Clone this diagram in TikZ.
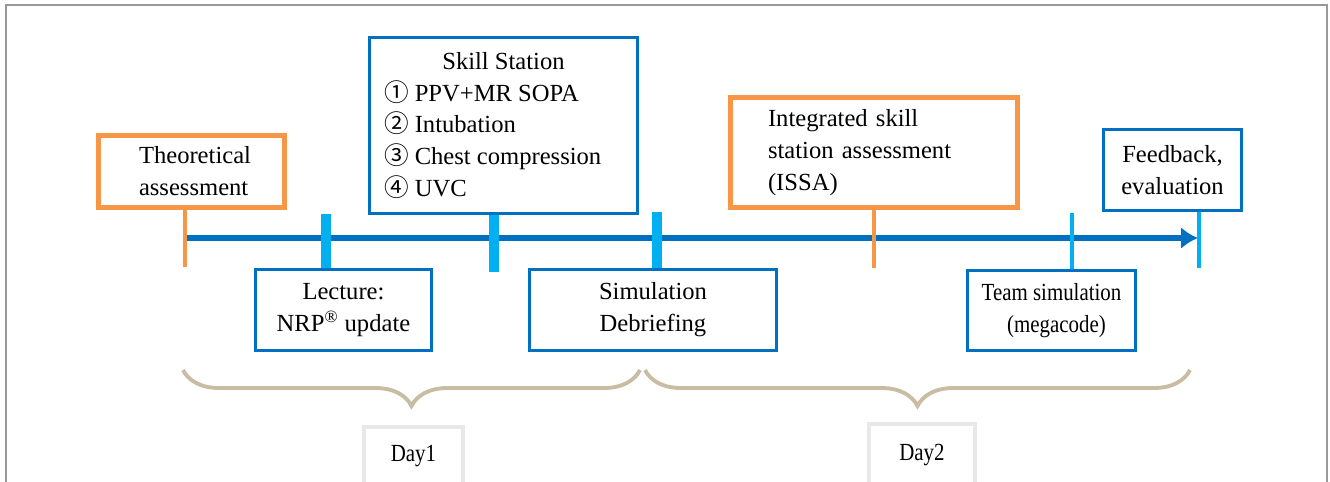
\documentclass[tikz,border=0pt]{standalone}
\usepackage{fontspec}
\setmainfont{Liberation Serif}
\newfontfamily\circfont{Noto Sans CJK SC}
\usetikzlibrary{arrows.meta,decorations.pathreplacing}

\definecolor{boxblue}{RGB}{0,112,192}
\definecolor{tickblue}{RGB}{0,176,240}
\definecolor{assessorange}{RGB}{247,150,70}
\definecolor{bracetan}{RGB}{200,188,162}
\definecolor{dayframe}{RGB}{232,232,232}

\newcommand{\cnum}[1]{{\circfont #1}}
\newcommand{\narrow}[1]{\scalebox{0.85}[1]{#1}}

\tikzset{
	bluebox/.style={draw=boxblue, line width=1.7pt, fill=white, align=center,
		font=\fontsize{14}{18.2}\selectfont},
	orangebox/.style={draw=assessorange, line width=2.8pt, fill=white, align=left,
		font=\fontsize{14}{18.2}\selectfont},
	daybox/.style={draw=dayframe, line width=2.2pt, fill=white,
		font=\fontsize{14}{18.2}\selectfont},
	timeline/.style={draw=boxblue, line width=3.4pt, -{Latex[length=0.34cm,width=0.44cm]}},
	fattick/.style={draw=tickblue, line width=5.6pt},
	thintick/.style={draw=tickblue, line width=2.8pt},
	orangetick/.style={draw=assessorange, line width=2.3pt},
	daybrace/.style={draw=bracetan, line width=2.2pt,
		decorate, decoration={brace, mirror, amplitude=0.72cm}}
}

\begin{document}
\begin{tikzpicture}[x=0.02cm, y=-0.02cm]
	\clip (0,0) rectangle (1330,481);
	\draw[gray!80, line width=0.8pt] (6,5) rectangle (1327,500);

	% boxes above and below the line
	\node[orangebox, minimum width=3.72cm, minimum height=1.44cm] (theory) at (191.5,171.5)
		{\hspace*{0.14cm}Theoretical\\\hspace*{0.14cm}assessment};
	\node[bluebox, minimum width=3.52cm, minimum height=1.62cm] (lecture) at (343.5,310)
		{Lecture:\\NRP\textsuperscript{®} update};
	\node[bluebox, minimum width=5.36cm, minimum height=3.52cm] (skill) at (503.5,125.5)
		{Skill Station\\
		\makebox[4.78cm][l]{\cnum{①} PPV+MR SOPA}\\
		\makebox[4.78cm][l]{\cnum{②} Intubation}\\
		\makebox[4.78cm][l]{\cnum{③} Chest compression}\\
		\makebox[4.78cm][l]{\cnum{④} UVC}};
	\node[bluebox, minimum width=4.94cm, minimum height=1.62cm] (simdeb) at (653,310)
		{Simulation\\Debriefing};
	\node[orangebox, minimum width=5.74cm, minimum height=2.2cm, text width=4.24cm,
		inner xsep=0pt] (issa) at (874,152.5)
		{Integrated skill\\station assessment\\(ISSA)};
	\node[bluebox, minimum width=3.36cm, minimum height=1.6cm] (teamsim) at (1051.5,310.5)
		{\narrow{Team simulation}\\\hspace*{0.2cm}\narrow{(megacode)}};
	\node[bluebox, minimum width=2.76cm, minimum height=1.62cm] (feedback) at (1172.5,170)
		{Feedback,\\evaluation};

	% time line
	\coordinate (tstart) at (185,238);
	\coordinate (tend) at (1198,238);
	\draw[timeline] (tstart) -- (tend);

	% ticks
	\coordinate (t1) at (326,214);
	\coordinate (t2) at (494,272);
	\coordinate (t3) at (657,212);
	\coordinate (t4) at (874,268);
	\coordinate (t5) at (1072,213);
	\coordinate (t6) at (1199,268);
	\draw[orangetick] (theory.south -| tstart) -- (185,267);
	\draw[fattick] (t1) -- (t1 |- lecture.north);
	\draw[fattick] (t2) -- (t2 |- skill.south);
	\draw[fattick] (t3) -- (t3 |- simdeb.north);
	\draw[orangetick] (t4) -- (issa.south);
	\draw[thintick] (t5) -- (t5 |- teamsim.north);
	\draw[thintick] (t6) -- (t6 |- feedback.south);

	% days
	\draw[daybrace] (183,370) -- (640,370);
	\draw[daybrace] (645,370) -- (1190,370);
	\node[daybox, minimum width=1.98cm, minimum height=1.18cm] (day1) at (413.5,456.5) {\narrow{Day1}};
	\node[daybox, minimum width=2.12cm, minimum height=1.24cm] (day2) at (922,455) {\narrow{Day2}};
\end{tikzpicture}
\end{document}
